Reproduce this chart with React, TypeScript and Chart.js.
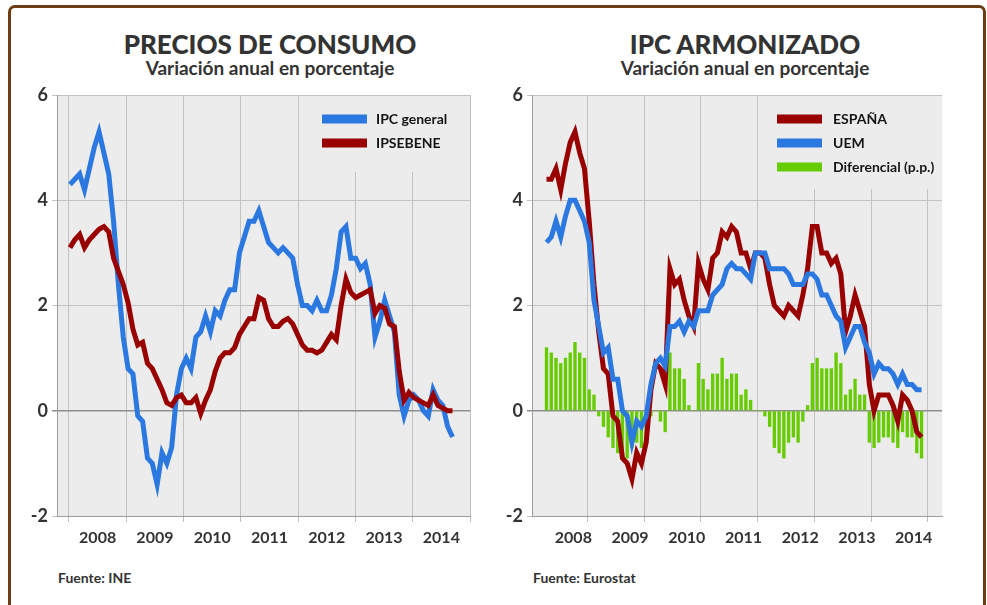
import React, { useEffect, useRef } from 'react';
import { Chart, registerables } from 'chart.js';

Chart.register(...registerables);

// ---------- data (monthly, Jan 2008 – Aug 2014) ----------
const YEARS = ['2008', '2009', '2010', '2011', '2012', '2013', '2014'];
const Y_TICKS = [6, 4, 2, 0, -2];

const IPC_GENERAL = [
  4.3, 4.4, 4.5, 4.2, 4.6, 5.0, 5.3, 4.9, 4.5, 3.6, 2.4, 1.4,
  0.8, 0.7, -0.1, -0.2, -0.9, -1.0, -1.4, -0.8, -1.0, -0.7, 0.3, 0.8,
  1.0, 0.8, 1.4, 1.5, 1.8, 1.5, 1.9, 1.8, 2.1, 2.3, 2.3, 3.0,
  3.3, 3.6, 3.6, 3.8, 3.5, 3.2, 3.1, 3.0, 3.1, 3.0, 2.9, 2.4,
  2.0, 2.0, 1.9, 2.1, 1.9, 1.9, 2.2, 2.7, 3.4, 3.5, 2.9, 2.9,
  2.7, 2.8, 2.4, 1.4, 1.7, 2.1, 1.8, 1.5, 0.3, -0.1, 0.2, 0.3,
  0.2, 0.0, -0.1, 0.4, 0.2, 0.1, -0.3, -0.5,
];

const IPSEBENE = [
  3.1, 3.25, 3.35, 3.1, 3.25, 3.35, 3.45, 3.5, 3.4, 2.9, 2.65, 2.4,
  2.05, 1.55, 1.25, 1.3, 0.9, 0.8, 0.6, 0.4, 0.15, 0.1, 0.25, 0.3,
  0.15, 0.15, 0.25, -0.05, 0.2, 0.4, 0.75, 1.0, 1.1, 1.1, 1.2, 1.45,
  1.6, 1.75, 1.75, 2.15, 2.1, 1.75, 1.6, 1.6, 1.7, 1.75, 1.65, 1.45,
  1.25, 1.15, 1.15, 1.1, 1.15, 1.3, 1.45, 1.35, 2.0, 2.5, 2.25, 2.15,
  2.2, 2.25, 2.3, 1.85, 2.0, 1.95, 1.65, 1.6, 0.75, 0.2, 0.35, 0.25,
  0.2, 0.15, 0.1, 0.3, 0.1, 0.05, 0.0, 0.0,
];

const HICP_ESPANA = [
  4.4, 4.4, 4.6, 4.2, 4.7, 5.1, 5.3, 4.9, 4.6, 3.6, 2.4, 1.5,
  0.8, 0.7, -0.1, -0.2, -0.9, -1.0, -1.3, -0.8, -1.0, -0.6, 0.4, 0.9,
  0.8, 0.5, 2.7, 2.4, 2.5, 2.1, 1.8, 1.6, 2.8, 2.5, 2.3, 2.9,
  3.0, 3.4, 3.3, 3.5, 3.4, 3.0, 3.0, 2.7, 3.0, 3.0, 2.9, 2.4,
  2.0, 1.9, 1.8, 2.0, 1.9, 1.8, 2.2, 2.7, 3.5, 3.5, 3.0, 3.0,
  2.8, 2.9, 2.6, 1.5, 1.8, 2.2, 1.9, 1.6, 0.5, 0.0, 0.3, 0.3,
  0.3, 0.1, -0.2, 0.3, 0.2, 0.0, -0.4, -0.5,
];

const HICP_UEM = [
  3.2, 3.3, 3.6, 3.3, 3.7, 4.0, 4.0, 3.8, 3.6, 3.2, 2.1, 1.6,
  1.1, 1.2, 0.6, 0.6, 0.0, -0.1, -0.6, -0.2, -0.3, -0.1, 0.5, 0.9,
  1.0, 0.85, 1.6, 1.6, 1.7, 1.5, 1.7, 1.6, 1.9, 1.9, 1.9, 2.2,
  2.3, 2.4, 2.7, 2.8, 2.7, 2.7, 2.6, 2.5, 3.0, 3.0, 3.0, 2.7,
  2.7, 2.7, 2.7, 2.6, 2.4, 2.4, 2.4, 2.6, 2.6, 2.5, 2.2, 2.2,
  2.0, 1.8, 1.7, 1.2, 1.4, 1.6, 1.6, 1.3, 1.1, 0.7, 0.9, 0.8,
  0.8, 0.7, 0.5, 0.7, 0.5, 0.5, 0.4, 0.4,
];

const DIFERENCIAL = [
  1.2, 1.1, 1.0, 0.9, 1.0, 1.1, 1.3, 1.1, 1.0, 0.4, 0.3, -0.1,
  -0.3, -0.5, -0.7, -0.8, -0.9, -0.9, -0.7, -0.6, -0.7, -0.5, -0.1, 0.0,
  -0.2, -0.4, 1.1, 0.8, 0.8, 0.6, 0.1, 0.0, 0.9, 0.6, 0.4, 0.7,
  0.7, 1.0, 0.6, 0.7, 0.7, 0.3, 0.4, 0.2, 0.0, 0.0, -0.1, -0.3,
  -0.7, -0.8, -0.9, -0.6, -0.5, -0.6, -0.2, 0.1, 0.9, 1.0, 0.8, 0.8,
  0.8, 1.1, 0.9, 0.3, 0.4, 0.6, 0.3, 0.3, -0.6, -0.7, -0.6, -0.5,
  -0.5, -0.6, -0.7, -0.4, -0.5, -0.5, -0.8, -0.9,
];

// ---------- styles ----------
const FONT = 'Lato, "Open Sans", "DejaVu Sans", sans-serif';
const TEXT = '#333333';
const PLOT_BG = '#ececec';
const GRID = '#c2c2c2';
const AXIS = '#9c9c9c';
const ZERO = '#8e8e8e';
const BLUE = '#2a78e0';
const RED = '#990000';
const GREEN = '#66cc00';

const CANVAS_TOP = 75;
const CANVAS_H = 481;

type LegendItem = { label: string; color: string };

interface PanelSpec {
  key: string;
  title: string;
  subtitle: string;
  source: string;
  canvasLeft: number;
  canvasWidth: number;
  padRight: number;
  titleCenter: number;
  xMin: number;
  gridStart: number;
  gridStep: number;
  datasets: any[];
  legend: LegendItem[];
  maskW: number;
  maskH: number;
  swatchOffset: number;
  textOffset: number;
}

const pts = (values: number[]) => values.map((y, x) => ({ x, y }));

const lineDs = (label: string, values: number[], color: string, order: number) => ({
  type: 'line',
  label,
  data: pts(values),
  borderColor: color,
  backgroundColor: color,
  borderWidth: 5,
  pointRadius: 0,
  tension: 0,
  fill: false,
  borderJoinStyle: 'miter',
  borderCapStyle: 'butt',
  order,
});

const PANELS: PanelSpec[] = [
  {
    key: 'ine',
    title: 'PRECIOS DE CONSUMO',
    subtitle: 'Variación anual en porcentaje',
    source: 'Fuente: INE',
    canvasLeft: 0,
    canvasWidth: 490,
    padRight: 20,
    titleCenter: 270,
    xMin: -2.685,
    gridStart: -0.2065,
    gridStep: 11.832,
    datasets: [
      lineDs('IPSEBENE', IPSEBENE, RED, 0),
      lineDs('IPC general', IPC_GENERAL, BLUE, 1),
    ],
    legend: [
      { label: 'IPC general', color: BLUE },
      { label: 'IPSEBENE', color: RED },
    ],
    maskW: 170,
    maskH: 76,
    swatchOffset: 148,
    textOffset: 94,
  },
  {
    key: 'eurostat',
    title: 'IPC ARMONIZADO',
    subtitle: 'Variación anual en porcentaje',
    source: 'Fuente: Eurostat',
    canvasLeft: 475,
    canvasWidth: 490,
    padRight: 23,
    titleCenter: 745,
    xMin: -3.055,
    gridStart: -0.316,
    gridStep: 11.947,
    datasets: [
      lineDs('UEM', HICP_UEM, BLUE, 0),
      lineDs('ESPAÑA', HICP_ESPANA, RED, 1),
      {
        type: 'bar',
        label: 'Diferencial (p.p.)',
        data: pts(DIFERENCIAL),
        backgroundColor: GREEN,
        borderWidth: 0,
        barThickness: 2.7,
        order: 2,
      },
    ],
    legend: [
      { label: 'ESPAÑA', color: RED },
      { label: 'UEM', color: BLUE },
      { label: 'Diferencial (p.p.)', color: GREEN },
    ],
    maskW: 167,
    maskH: 93,
    swatchOffset: 165,
    textOffset: 109,
  },
];

function decorPlugin(spec: PanelSpec) {
  return {
    id: 'panelDecor_' + spec.key,
    beforeDraw(chart: any) {
      const { ctx, chartArea: a } = chart;
      ctx.save();
      ctx.fillStyle = PLOT_BG;
      ctx.fillRect(a.left, a.top, a.right - a.left, a.bottom - a.top);
      ctx.restore();
    },
    beforeDatasetsDraw(chart: any) {
      const { ctx, chartArea: a } = chart;
      ctx.save();
      ctx.fillStyle = PLOT_BG;
      ctx.fillRect(a.right - spec.maskW, a.top + 1, spec.maskW - 1, spec.maskH);
      spec.legend.forEach((item, k) => {
        const cy = a.top + 24 + k * 24;
        ctx.fillStyle = item.color;
        ctx.fillRect(a.right - spec.swatchOffset, cy - 4.5, 45, 9);
        ctx.fillStyle = '#151515';
        ctx.font = `bold 14px ${FONT}`;
        ctx.textBaseline = 'middle';
        ctx.textAlign = 'left';
        ctx.fillText(item.label, a.right - spec.textOffset, cy + 0.5);
      });
      ctx.restore();
    },
  };
}

function PanelChart({ spec }: { spec: PanelSpec }) {
  const ref = useRef<HTMLCanvasElement>(null);

  useEffect(() => {
    const canvas = ref.current;
    if (!canvas) return;
    const xMax = spec.gridStart + 7 * spec.gridStep;
    const xTicks: number[] = [];
    for (let k = 0; k <= 7; k++) {
      xTicks.push(spec.gridStart + k * spec.gridStep);
      if (k < 7) xTicks.push(spec.gridStart + (k + 0.5) * spec.gridStep);
    }
    const chart = new Chart(canvas, {
      type: 'line',
      data: { datasets: spec.datasets as any },
      options: {
        responsive: false,
        animation: false,
        events: [],
        layout: { padding: { top: 20, right: spec.padRight, bottom: 0, left: 0 } },
        plugins: {
          legend: { display: false },
          tooltip: { enabled: false },
          title: { display: false },
        },
        scales: {
          x: {
            type: 'linear',
            min: spec.xMin,
            max: xMax,
            offset: false,
            afterBuildTicks: (scale: any) => {
              scale.ticks = xTicks.map((value) => ({ value }));
            },
            afterFit: (scale: any) => {
              scale.height = 40;
            },
            ticks: {
              autoSkip: false,
              maxRotation: 0,
              minRotation: 0,
              padding: 6,
              color: TEXT,
              font: { family: FONT, weight: 'bold', size: 16 },
              callback: (_v: any, i: number) => (i % 2 === 1 ? YEARS[(i - 1) / 2] : ''),
            },
            grid: {
              color: (ctx: any) => (ctx.index % 2 === 0 ? GRID : 'rgba(0,0,0,0)'),
              lineWidth: 1,
              tickLength: 6,
            },
            border: { color: AXIS, width: 1 },
          },
          y: {
            type: 'linear',
            min: -2,
            max: 6,
            afterBuildTicks: (scale: any) => {
              scale.ticks = Y_TICKS.map((value) => ({ value }));
            },
            afterFit: (scale: any) => {
              scale.width = 57;
            },
            ticks: {
              padding: 4,
              color: TEXT,
              font: { family: FONT, weight: 'bold', size: 18 },
              callback: (v: any) => String(v),
            },
            grid: {
              color: (ctx: any) => (ctx.tick && ctx.tick.value === 0 ? ZERO : GRID),
              lineWidth: (ctx: any) => (ctx.tick && ctx.tick.value === 0 ? 1.5 : 1),
              tickLength: 5,
            },
            border: { color: AXIS, width: 1 },
          },
        },
      } as any,
      plugins: [decorPlugin(spec)],
    });
    return () => chart.destroy();
  }, [spec]);

  return (
    <canvas
      ref={ref}
      width={spec.canvasWidth}
      height={CANVAS_H}
      style={{
        position: 'absolute',
        left: spec.canvasLeft,
        top: CANVAS_TOP,
        width: spec.canvasWidth,
        height: CANVAS_H,
        display: 'block',
      }}
    />
  );
}

export default function App() {
  return (
    <div
      style={{
        position: 'absolute',
        left: 0,
        top: 0,
        width: 987,
        height: 605,
        background: '#ffffff',
        overflow: 'hidden',
        fontFamily: FONT,
        color: TEXT,
      }}
    >
      <div
        style={{
          position: 'absolute',
          left: 8,
          top: 5,
          width: 978,
          height: 660,
          border: '3px solid #6e3c12',
          borderRadius: 7,
          boxSizing: 'border-box',
        }}
      />
      {PANELS.map((p) => (
        <React.Fragment key={p.key}>
          <div
            style={{
              position: 'absolute',
              left: p.titleCenter - 250,
              width: 500,
              top: 31,
              textAlign: 'center',
              fontSize: 26,
              lineHeight: '26px',
              fontWeight: 900,
              color: '#333',
              whiteSpace: 'nowrap',
            }}
          >
            {p.title}
          </div>
          <div
            style={{
              position: 'absolute',
              left: p.titleCenter - 250,
              width: 500,
              top: 58,
              textAlign: 'center',
              fontSize: 19,
              lineHeight: '19px',
              fontWeight: 700,
              color: '#333',
              whiteSpace: 'nowrap',
            }}
          >
            {p.subtitle}
          </div>
          <PanelChart spec={p} />
          <div
            style={{
              position: 'absolute',
              left: p.canvasLeft + 58,
              top: 571,
              fontSize: 14,
              lineHeight: '14px',
              fontWeight: 700,
              color: '#333',
              whiteSpace: 'nowrap',
            }}
          >
            {p.source}
          </div>
        </React.Fragment>
      ))}
    </div>
  );
}
